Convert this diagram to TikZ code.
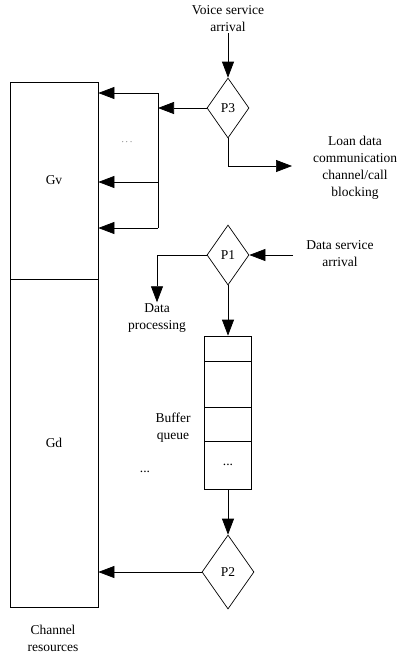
\documentclass[tikz,border=0pt]{standalone}
\usepackage{fontspec}
\setmainfont{Liberation Serif}
\usetikzlibrary{arrows.meta,shapes.geometric}

\begin{document}
\begin{tikzpicture}[x=1pt,y=-1pt,
    line width=0.7pt,
    every node/.style={font=\fontsize{13.5}{17}\selectfont},
    arr/.style={-{Triangle[length=16pt,width=12pt]}},
    decision/.style={draw,diamond,inner sep=0pt,minimum width=42pt,minimum height=60pt},
    cell/.style={draw,rectangle,minimum width=47pt,inner sep=0pt},
    lbl/.style={align=center,inner sep=1pt}]
            \useasboundingbox (0,0) rectangle (401,654);
            % channel resources
            \node[draw,minimum width=88pt,minimum height=197pt,inner sep=0pt] (gv) at (54,180.5) {Gv};
            \node[draw,minimum width=88pt,minimum height=328pt,inner sep=0pt] (gd) at (54,443) {Gd};
            \node[lbl] (chan) at (53,638) {Channel\\resources};
            % voice side
            \node[lbl] (voice) at (228,19) {Voice service\\arrival};
            \node[decision] (p3) at (228,108) {P3};
            \node[lbl] (loan) at (355,168) {Loan data\\communication\\channel/call\\blocking};
            \coordinate (lend) at (292,166);
            \coordinate (b0) at (158,108);
            \coordinate (b1) at (158,93);
            \coordinate (b2) at (158,182);
            \coordinate (b3) at (158,228);
            \node (dots1) at (127,142) {\fontsize{9}{9}\selectfont$\cdots$};
            \draw[arr] (voice) -- (p3);
            \draw[arr] (p3) -- (b0);
            \draw (b1) -- (b3);
            \draw[arr] (b1) -- (b1 -| gv.east);
            \draw[arr] (b2) -- (b2 -| gv.east);
            \draw[arr] (b3) -- (b3 -| gv.east);
            \draw[arr] (p3.south) |- (lend);
            % data side
            \node[decision] (p1) at (228,255) {P1};
            \node[lbl] (darr) at (340,254) {Data service\\arrival};
            \coordinate (dstart) at (293,255);
            \node[lbl] (dproc) at (157,318) {Data\\processing};
            \draw[arr] (dstart) -- (p1);
            \draw[arr] (p1.west) -| (dproc.north);
            % buffer queue
            \node[cell,minimum height=25pt] (q1) at (228,348.5) {};
            \node[cell,minimum height=46pt] (q2) at (228,384) {};
            \node[cell,minimum height=34pt] (q3) at (228,424) {};
            \node[cell,minimum height=48pt] (q4) at (228,465) {...};
            \node[lbl] (buf) at (173,428) {Buffer\\queue};
            \node (dots2) at (145,472) {...};
            \draw[arr] (p1) -- (q1);
            \node[decision,minimum width=52pt,minimum height=74pt] (p2) at (228,572) {P2};
            \draw[arr] (q4) -- (p2);
            \draw[arr] (p2) -- (p2 -| gd.east);
        \end{tikzpicture}
\end{document}
